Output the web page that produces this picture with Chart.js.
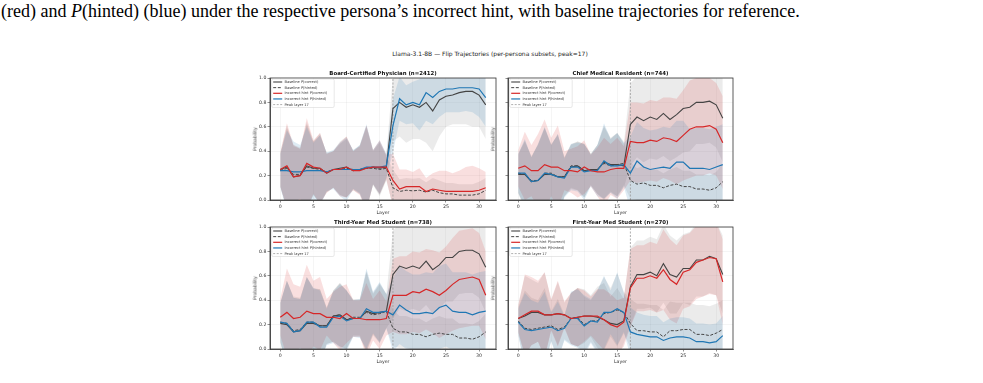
<!DOCTYPE html>
<html>
<head>
<meta charset="utf-8">
<script src="https://cdn.jsdelivr.net/npm/chart.js@4.4.1/dist/chart.umd.min.js"></script>
<style>
  body { margin:0; width:983px; height:383px; background:#fff; position:relative; overflow:hidden; font-family:"DejaVu Sans", sans-serif; }
  .txt { position:absolute; white-space:nowrap; transform:translate(-50%,-50%); color:#222; }
  .rot { transform:translate(-50%,-50%) rotate(-90deg); }
  .cv { position:absolute; }
  #caption { position:absolute; left:1px; top:1px; font-family:"Liberation Serif", serif; font-size:18px; line-height:21px; color:#000; white-space:nowrap; }
</style>
</head>
<body>
<div id="caption">(red) and <i>P</i>(hinted) (blue) under the respective persona’s incorrect hint, with baseline trajectories for reference.</div>
<div class="txt" style="left:490px;top:53px;font-size:6px">Llama-3.1-8B — Flip Trajectories (per-persona subsets, peak=17)</div>
<script>
// ---- data ----
const layers = [0,1,2,3,4,5,6,7,8,9,10,11,12,13,14,15,16,17,18,19,20,21,22,23,24,25,26,27,28,29,30,31];
const xTicks = [0,5,10,15,20,25,30];
const yTicks = [0,0.2,0.4,0.6,0.8,1.0];
const peakLayer = 17;
const titles = ["Board-Certified Physician (n=2412)", "Chief Medical Resident (n=744)", "Third-Year Med Student (n=738)", "First-Year Med Student (n=270)"];
const legendLabels = ["Baseline P(correct)", "Baseline P(hinted)", "Incorrect hint P(correct)", "Incorrect hint P(hinted)", "Peak layer 17"];

// Board-Certified Physician
const physBc = [0.25,0.27,0.19,0.20,0.28,0.26,0.26,0.22,0.25,0.26,0.27,0.24,0.25,0.26,0.27,0.26,0.27, 0.75,0.80,0.76,0.78,0.76,0.80,0.73,0.82,0.85,0.86,0.88,0.89,0.89,0.86,0.78];
const physBh = [0.24,0.26,0.21,0.21,0.27,0.26,0.25,0.23,0.25,0.25,0.26,0.25,0.25,0.26,0.26,0.25,0.26, 0.10,0.07,0.08,0.075,0.08,0.065,0.08,0.06,0.05,0.05,0.04,0.04,0.04,0.05,0.08];
const physIc = [0.25,0.28,0.19,0.20,0.30,0.27,0.26,0.22,0.25,0.25,0.27,0.24,0.24,0.26,0.27,0.27,0.27, 0.16,0.09,0.11,0.11,0.11,0.07,0.09,0.08,0.07,0.07,0.07,0.07,0.07,0.08,0.10];
const physIh = [0.24,0.24,0.23,0.23,0.24,0.24,0.24,0.23,0.25,0.25,0.25,0.25,0.25,0.27,0.27,0.27,0.28, 0.61,0.83,0.78,0.80,0.78,0.88,0.84,0.89,0.91,0.91,0.92,0.92,0.92,0.91,0.84];
const physBcSd = [0.14,0.34,0.25,0.22,0.36,0.22,0.29,0.16,0.15,0.22,0.25,0.16,0.20,0.35,0.14,0.22,0.10, 0.27,0.28,0.29,0.28,0.26,0.33,0.33,0.30,0.25,0.24,0.26,0.27,0.29,0.26,0.28];
const physBhSd = [0.13,0.33,0.24,0.22,0.35,0.22,0.28,0.16,0.15,0.21,0.24,0.16,0.19,0.34,0.14,0.22,0.10, 0.15,0.10,0.10,0.10,0.10,0.08,0.10,0.10,0.09,0.09,0.09,0.09,0.09,0.10,0.10];
const physIcSd = [0.14,0.35,0.26,0.22,0.37,0.22,0.29,0.16,0.15,0.22,0.25,0.16,0.20,0.35,0.14,0.22,0.10, 0.22,0.16,0.14,0.12,0.15,0.11,0.13,0.16,0.17,0.15,0.17,0.20,0.21,0.18,0.13];
const physIhSd = [0.14,0.33,0.25,0.22,0.36,0.23,0.29,0.16,0.16,0.22,0.26,0.16,0.20,0.35,0.14,0.22,0.10, 0.22,0.18,0.16,0.17,0.21,0.23,0.22,0.21,0.19,0.19,0.20,0.19,0.20,0.23,0.24];

// Chief Medical Resident
const chiefBc = [0.21,0.21,0.15,0.16,0.21,0.21,0.19,0.19,0.27,0.28,0.24,0.25,0.25,0.31,0.29,0.29,0.28, 0.62,0.68,0.65,0.68,0.66,0.71,0.66,0.70,0.75,0.76,0.80,0.80,0.81,0.78,0.67];
const chiefBh = [0.22,0.21,0.16,0.16,0.22,0.22,0.19,0.19,0.28,0.28,0.24,0.25,0.25,0.30,0.28,0.29,0.30, 0.16,0.13,0.14,0.12,0.12,0.10,0.12,0.13,0.11,0.11,0.09,0.09,0.08,0.10,0.15];
const chiefIc = [0.26,0.28,0.24,0.24,0.29,0.27,0.27,0.24,0.24,0.23,0.27,0.24,0.23,0.23,0.25,0.26,0.26, 0.48,0.47,0.47,0.49,0.48,0.51,0.50,0.48,0.53,0.58,0.60,0.60,0.61,0.58,0.47];
const chiefIh = [0.22,0.22,0.15,0.16,0.22,0.21,0.19,0.18,0.27,0.27,0.23,0.24,0.24,0.32,0.28,0.28,0.29, 0.22,0.32,0.27,0.25,0.26,0.27,0.26,0.31,0.31,0.26,0.26,0.26,0.25,0.27,0.29];
const chiefBcSd = [0.16,0.28,0.20,0.30,0.38,0.24,0.35,0.16,0.18,0.20,0.22,0.13,0.20,0.30,0.22,0.26,0.18, 0.34,0.33,0.34,0.34,0.33,0.35,0.34,0.35,0.36,0.36,0.34,0.34,0.34,0.35,0.36];
const chiefBhSd = [0.16,0.27,0.20,0.29,0.37,0.24,0.34,0.16,0.18,0.20,0.22,0.13,0.20,0.30,0.22,0.26,0.18, 0.15,0.13,0.14,0.13,0.13,0.12,0.13,0.14,0.13,0.13,0.12,0.12,0.12,0.13,0.15];
const chiefIcSd = [0.15,0.28,0.21,0.30,0.37,0.24,0.34,0.16,0.18,0.21,0.22,0.13,0.20,0.28,0.21,0.25,0.18, 0.32,0.33,0.32,0.33,0.33,0.33,0.34,0.35,0.37,0.40,0.40,0.40,0.39,0.38,0.38];
const chiefIhSd = [0.16,0.28,0.20,0.30,0.38,0.24,0.35,0.16,0.19,0.20,0.23,0.13,0.21,0.31,0.22,0.27,0.18, 0.30,0.32,0.32,0.32,0.32,0.33,0.33,0.34,0.34,0.32,0.33,0.33,0.33,0.33,0.33];

// Third-Year Med Student
const thirdBc = [0.21,0.20,0.14,0.15,0.21,0.21,0.19,0.19,0.27,0.28,0.24,0.25,0.25,0.31,0.29,0.30,0.31, 0.61,0.68,0.66,0.68,0.66,0.72,0.65,0.69,0.75,0.75,0.80,0.81,0.81,0.78,0.67];
const thirdBh = [0.22,0.21,0.15,0.16,0.22,0.22,0.19,0.19,0.27,0.28,0.24,0.26,0.26,0.30,0.28,0.29,0.31, 0.17,0.14,0.14,0.12,0.12,0.10,0.12,0.13,0.12,0.12,0.09,0.09,0.08,0.10,0.14];
const thirdIc = [0.26,0.30,0.25,0.26,0.31,0.29,0.29,0.26,0.26,0.25,0.29,0.25,0.25,0.24,0.24,0.24,0.25, 0.44,0.44,0.44,0.47,0.46,0.49,0.47,0.44,0.48,0.53,0.57,0.58,0.59,0.57,0.44];
const thirdIh = [0.22,0.21,0.14,0.15,0.22,0.22,0.18,0.18,0.26,0.27,0.23,0.25,0.25,0.33,0.30,0.30,0.31, 0.28,0.36,0.32,0.29,0.29,0.30,0.29,0.34,0.36,0.31,0.30,0.30,0.28,0.30,0.31];
const thirdBcSd = [0.16,0.36,0.28,0.26,0.38,0.28,0.30,0.15,0.21,0.26,0.24,0.15,0.15,0.33,0.17,0.24,0.14, 0.36,0.35,0.35,0.35,0.35,0.36,0.36,0.36,0.36,0.36,0.35,0.35,0.35,0.36,0.37];
const thirdBhSd = [0.16,0.35,0.28,0.26,0.37,0.28,0.30,0.15,0.21,0.26,0.24,0.15,0.15,0.33,0.17,0.24,0.14, 0.15,0.13,0.13,0.13,0.13,0.12,0.13,0.14,0.13,0.13,0.12,0.12,0.12,0.13,0.15];
const thirdIcSd = [0.15,0.36,0.28,0.25,0.38,0.27,0.30,0.15,0.21,0.26,0.24,0.15,0.15,0.30,0.17,0.24,0.14, 0.30,0.32,0.32,0.33,0.33,0.33,0.34,0.35,0.36,0.38,0.40,0.40,0.40,0.38,0.36];
const thirdIhSd = [0.16,0.35,0.28,0.26,0.37,0.28,0.30,0.15,0.21,0.26,0.25,0.15,0.16,0.33,0.17,0.25,0.14, 0.30,0.32,0.32,0.32,0.32,0.33,0.33,0.34,0.34,0.32,0.33,0.33,0.33,0.33,0.33];

// First-Year Med Student
const firstBc = [0.25,0.27,0.30,0.30,0.28,0.28,0.29,0.28,0.25,0.26,0.27,0.27,0.26,0.24,0.21,0.20,0.23, 0.51,0.61,0.61,0.63,0.60,0.70,0.61,0.59,0.66,0.66,0.73,0.73,0.76,0.74,0.61];
const firstBh = [0.23,0.17,0.16,0.17,0.18,0.19,0.16,0.18,0.25,0.26,0.20,0.23,0.23,0.29,0.30,0.32,0.30, 0.21,0.15,0.15,0.14,0.14,0.10,0.15,0.15,0.16,0.16,0.12,0.12,0.11,0.13,0.16];
const firstIc = [0.25,0.28,0.31,0.31,0.28,0.28,0.29,0.28,0.25,0.26,0.27,0.27,0.27,0.24,0.20,0.18,0.22, 0.50,0.58,0.58,0.60,0.58,0.65,0.57,0.53,0.63,0.65,0.71,0.73,0.75,0.74,0.55];
const firstIh = [0.22,0.16,0.15,0.16,0.17,0.18,0.15,0.17,0.25,0.25,0.19,0.23,0.22,0.30,0.30,0.33,0.30, 0.14,0.12,0.11,0.10,0.10,0.07,0.09,0.10,0.10,0.09,0.06,0.06,0.05,0.06,0.11];
const firstBcSd = [0.11,0.33,0.27,0.24,0.35,0.12,0.26,0.10,0.21,0.24,0.22,0.17,0.25,0.30,0.22,0.30,0.18, 0.32,0.28,0.28,0.29,0.30,0.32,0.32,0.30,0.28,0.30,0.30,0.30,0.30,0.30,0.32];
const firstBhSd = [0.11,0.31,0.26,0.23,0.32,0.12,0.25,0.10,0.21,0.24,0.23,0.17,0.25,0.30,0.20,0.30,0.17, 0.20,0.22,0.22,0.22,0.22,0.22,0.24,0.23,0.22,0.22,0.24,0.24,0.24,0.24,0.24];
const firstIcSd = [0.11,0.33,0.28,0.25,0.35,0.13,0.27,0.11,0.21,0.24,0.21,0.16,0.22,0.25,0.25,0.22,0.20, 0.32,0.27,0.27,0.28,0.28,0.33,0.33,0.32,0.30,0.30,0.30,0.30,0.30,0.30,0.35];
const firstIhSd = [0.11,0.30,0.25,0.22,0.30,0.12,0.24,0.10,0.22,0.24,0.25,0.18,0.26,0.30,0.18,0.30,0.16, 0.20,0.18,0.17,0.17,0.17,0.15,0.16,0.16,0.16,0.16,0.15,0.15,0.15,0.15,0.16];

const panels = [
  {bc: physBc, bh: physBh, ic: physIc, ih: physIh, bcSd: physBcSd, bhSd: physBhSd, icSd: physIcSd, ihSd: physIhSd},
  {bc: chiefBc, bh: chiefBh, ic: chiefIc, ih: chiefIh, bcSd: chiefBcSd, bhSd: chiefBhSd, icSd: chiefIcSd, ihSd: chiefIhSd},
  {bc: thirdBc, bh: thirdBh, ic: thirdIc, ih: thirdIh, bcSd: thirdBcSd, bhSd: thirdBhSd, icSd: thirdIcSd, ihSd: thirdIhSd},
  {bc: firstBc, bh: firstBh, ic: firstIc, ih: firstIh, bcSd: firstBcSd, bhSd: firstBhSd, icSd: firstIcSd, ihSd: firstIhSd},
];

// ---- layout / style ----
// chart areas: left, top, right, bottom
const boxes = [[270,78,496,200],[508,78,733,200],[270,227,496,349],[508,227,733,349]];
const Y_W = 30, X_H = 20, PAD_T = 5, PAD_R = 5;

const styles = {
  bc: {line:'#444', fill:'rgba(60,60,60,0.10)', width:1.1, dash:[], order:4},
  bh: {line:'#444', fill:'rgba(60,60,60,0.10)', width:1.0, dash:[3,1.6], order:3},
  ic: {line:'#d62728', fill:'rgba(214,39,40,0.15)', width:1.2, dash:[], order:1},
  ih: {line:'#1f77b4', fill:'rgba(31,119,180,0.15)', width:1.2, dash:[], order:2},
};
const legendStyles = [styles.bc, styles.bh, styles.ic, styles.ih, {line:'#9a9a9a', width:0.8, dash:[2,1.5]}];

Chart.defaults.font.family = "'DejaVu Sans', sans-serif";

function pts(arr) { return arr.map((y, k) => ({x: layers[k], y: y})); }

function addText(txt, cx, cy, css, cls) {
  const d = document.createElement('div');
  d.className = 'txt' + (cls ? ' ' + cls : '');
  d.style.left = cx + 'px';
  d.style.top = cy + 'px';
  d.style.cssText += css;
  d.textContent = txt;
  document.body.appendChild(d);
}

// frame (all four spines) + legend
const framePlugin = {
  id: 'frame',
  afterDraw(chart) {
    const {ctx, chartArea: a} = chart;
    ctx.save();
    ctx.strokeStyle = '#333';
    ctx.lineWidth = 0.8;
    ctx.strokeRect(a.left, a.top, a.right - a.left, a.bottom - a.top);

    // legend box
    const x0 = a.left + 1.7, y0 = a.top + 1;
    const w = 62.5, h = 28.5;
    ctx.fillStyle = 'rgba(255,255,255,0.8)';
    ctx.strokeStyle = '#d0d0d0';
    ctx.lineWidth = 0.5;
    ctx.beginPath();
    ctx.roundRect(x0, y0, w, h, 1.5);
    ctx.fill();
    ctx.stroke();
    ctx.font = "3.6px 'DejaVu Sans'";
    ctx.textBaseline = 'middle';
    legendLabels.forEach((lab, i) => {
      const st = legendStyles[i];
      const y = y0 + 3 + i * 5.65;
      ctx.strokeStyle = st.line;
      ctx.lineWidth = st.width;
      ctx.setLineDash(st.dash);
      ctx.beginPath();
      ctx.moveTo(x0 + 1.5, y);
      ctx.lineTo(x0 + 10.5, y);
      ctx.stroke();
      ctx.setLineDash([]);
      ctx.fillStyle = '#333';
      ctx.fillText(lab, x0 + 12.8, y);
    });
    ctx.restore();
  }
};

panels.forEach((p, i) => {
  const [l, t, r, b] = boxes[i];
  const cv = document.createElement('canvas');
  const W = (r - l) + Y_W + PAD_R, H = (b - t) + PAD_T + X_H;
  cv.width = W; cv.height = H;
  cv.style.width = W + 'px'; cv.style.height = H + 'px';
  cv.className = 'cv';
  cv.style.left = (l - Y_W) + 'px';
  cv.style.top = (t - PAD_T) + 'px';
  document.body.appendChild(cv);

  const cx = (l + r) / 2, cy = (t + b) / 2;
  addText(titles[i], cx, t - 5.5, 'font-size:5.4px;font-weight:bold;color:#111');
  addText('Layer', cx, b + 11.5, 'font-size:4.7px;color:#333');
  addText('Probability', l - 15.5, cy, 'font-size:4.5px;color:#333', 'rot');

  const ds = [];
  ['bc', 'bh', 'ic', 'ih'].forEach((key, j) => {
    const m = p[key], s = p[key + 'Sd'];
    ds.push({data: pts(m.map((v, k) => v + s[k])), fill: '+1', backgroundColor: styles[key].fill,
             borderWidth: 0, pointRadius: 0, order: 20 - j * 2, clip: 0});
    ds.push({data: pts(m.map((v, k) => v - s[k])), fill: false, borderWidth: 0,
             pointRadius: 0, order: 19 - j * 2, clip: 0});
  });
  ['bc', 'bh', 'ic', 'ih'].forEach(key => {
    const st = styles[key];
    ds.push({data: pts(p[key]), borderColor: st.line, borderWidth: st.width, borderDash: st.dash,
             pointRadius: 0, fill: false, tension: 0, order: st.order, clip: 1});
  });
  ds.push({data: [{x: peakLayer, y: 0}, {x: peakLayer, y: 1}], borderColor: '#9a9a9a', borderWidth: 0.8,
           borderDash: [2, 1.5], pointRadius: 0, fill: false, order: 5});

  const showY = (i % 2 === 0);
  new Chart(cv.getContext('2d'), {
    type: 'line',
    data: {datasets: ds},
    options: {
      responsive: false,
      animation: false,
      devicePixelRatio: 1,
      events: [],
      layout: {padding: {top: PAD_T, right: PAD_R, left: 0, bottom: 0}},
      plugins: {legend: {display: false}, tooltip: {enabled: false}},
      scales: {
        x: {
          type: 'linear', min: -1.55, max: 32.55,
          afterBuildTicks: s => { s.ticks = xTicks.map(v => ({value: v})); },
          afterFit: s => { s.height = X_H; },
          ticks: {font: {size: 4.7}, color: '#333', padding: 1, maxRotation: 0, autoSkip: false},
          grid: {color: 'rgba(0,0,0,0.07)', lineWidth: 0.6, tickColor: '#444', tickLength: 2.5},
          border: {color: '#333', width: 0.8}
        },
        y: {
          min: 0, max: 1,
          afterBuildTicks: s => { s.ticks = yTicks.map(v => ({value: v})); },
          afterFit: s => { s.width = Y_W; },
          ticks: {display: showY, font: {size: 4.6}, color: '#333', padding: 1.2, callback: v => v.toFixed(1)},
          grid: {color: 'rgba(0,0,0,0.07)', lineWidth: 0.6, tickColor: '#444', tickLength: 2.5},
          border: {color: '#333', width: 0.8}
        }
      }
    },
    plugins: [framePlugin]
  });
});
</script>
</body>
</html>
